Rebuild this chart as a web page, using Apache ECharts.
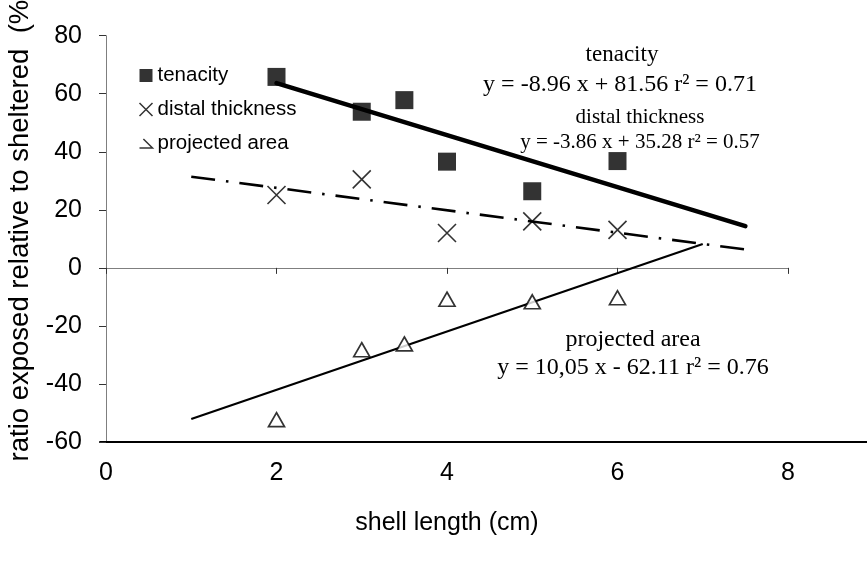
<!DOCTYPE html>
<html>
<head>
<meta charset="utf-8">
<script src="https://cdn.jsdelivr.net/npm/echarts@6/dist/echarts.min.js"></script>
<style>
  html, body { margin: 0; padding: 0; background: #fff; }
  #chart { width: 867px; height: 563px; }
</style>
</head>
<body>
<div id="chart"></div>
<script>
// Shell length (cm) and ratio exposed/sheltered (%) for each trait
const tenacityX = [2, 3, 3.5, 4, 5, 6];
const tenacityY = [65.8, 53.8, 57.8, 36.6, 26.4, 36.8];
const distalX = [2, 3, 4, 5, 6];
const distalY = [25.1, 30.5, 12, 16, 13.1];
const areaX = [2, 3, 3.5, 4, 5, 6];
const areaY = [-52.3, -28.2, -26.2, -10.8, -11.7, -10.3];

// Linear fits: [slope, intercept], drawn over [fromX, toX]
const tenacityFit = [-8.96, 81.56];
const tenacityFitRange = [2, 7.5];
const distalFit = [-3.86, 35.28];
const distalFitRange = [1, 7.5];
const areaFit = [10.05, -62.11];
const areaFitRange = [1, 7];

const xTicks = { min: 0, max: 8, interval: 2 };
const yTicks = { min: -60, max: 80, interval: 20 };

const SANS = "'Liberation Sans', Arial, sans-serif";
const SERIF = "'Liberation Serif', 'Times New Roman', serif";

function pairs(xs, ys) { return xs.map((x, i) => [x, ys[i]]); }
function fitLine(fit, range) { return range.map(x => [x, fit[0] * x + fit[1]]); }

const crossPath = 'path://M0,0L10,10M10,0L0,10';
const legendAreaIcon = 'path://M3,0L10,7L0,7';

const chart = echarts.init(document.getElementById('chart'), null, { renderer: 'canvas' });

const option = {
  animation: false,
  backgroundColor: '#fff',
  grid: [
    { left: 106, right: 79, top: 35.7, bottom: 121 },
    { left: 100, right: 0, top: 35.7, bottom: 121 }
  ],
  xAxis: [
    {
      type: 'value', gridIndex: 0, position: 'bottom',
      min: xTicks.min, max: xTicks.max, interval: xTicks.interval,
      axisLine: { show: false, onZero: false },
      axisTick: { show: false },
      splitLine: { show: false },
      axisLabel: { color: '#000', fontFamily: SANS, fontSize: 25, margin: 19 },
      name: 'shell length (cm)', nameLocation: 'middle', nameGap: 69,
      nameTextStyle: { color: '#000', fontFamily: SANS, fontSize: 25 }
    },
    {
      type: 'value', gridIndex: 0, position: 'bottom',
      min: xTicks.min, max: xTicks.max, interval: xTicks.interval,
      axisLine: { show: true, onZero: true, lineStyle: { color: '#7f7f7f', width: 1 } },
      axisTick: { show: true, length: 6, lineStyle: { color: '#333', width: 1 } },
      axisLabel: { show: false },
      splitLine: { show: false }
    },
    {
      type: 'value', gridIndex: 1, position: 'bottom', min: 0, max: 1,
      axisLine: { show: true, onZero: false, lineStyle: { color: '#000', width: 2 } },
      axisTick: { show: false }, axisLabel: { show: false }, splitLine: { show: false }
    }
  ],
  yAxis: [
    {
      type: 'value', gridIndex: 0,
      min: yTicks.min, max: yTicks.max, interval: yTicks.interval,
      axisLine: { show: true, onZero: false, lineStyle: { color: '#7f7f7f', width: 1 } },
      axisTick: { show: true, length: 7, lineStyle: { color: '#333', width: 1 } },
      splitLine: { show: false },
      axisLabel: { color: '#000', fontFamily: SANS, fontSize: 25, margin: 24 }
    },
    { type: 'value', gridIndex: 1, show: false, min: 0, max: 1 }
  ],
  legend: {
    orient: 'vertical', left: 132, top: 60, itemGap: 13,
    itemWidth: 13, itemHeight: 13,
    textStyle: { color: '#000', fontFamily: SANS, fontSize: 20.5 },
    data: [
      { name: 'tenacity', icon: 'rect', itemStyle: { color: '#000' } },
      { name: 'distal thickness', icon: crossPath,
        itemStyle: { color: 'none', borderColor: '#000', borderWidth: 1.5 } },
      { name: 'projected area', icon: legendAreaIcon,
        itemStyle: { color: 'none', borderColor: '#000', borderWidth: 1.5 } }
    ]
  },
  series: [
    {
      name: 'tenacity fit', type: 'line', xAxisIndex: 0, yAxisIndex: 0,
      data: fitLine(tenacityFit, tenacityFitRange), symbol: 'none',
      lineStyle: { color: '#000', width: 4.5, cap: 'round' }, z: 2
    },
    {
      name: 'distal fit', type: 'line', xAxisIndex: 0, yAxisIndex: 0,
      data: fitLine(distalFit, distalFitRange), symbol: 'none',
      lineStyle: { color: '#000', width: 2.6, type: [24, 11, 2.5, 11], cap: 'butt' }, z: 2
    },
    {
      name: 'area fit', type: 'line', xAxisIndex: 0, yAxisIndex: 0,
      data: fitLine(areaFit, areaFitRange), symbol: 'none',
      lineStyle: { color: '#000', width: 2.2 }, z: 2
    },
    {
      name: 'tenacity', type: 'scatter', xAxisIndex: 0, yAxisIndex: 0,
      data: pairs(tenacityX, tenacityY), symbol: 'rect', symbolSize: 18,
      itemStyle: { color: '#000' }, z: 3
    },
    {
      name: 'distal thickness', type: 'scatter', xAxisIndex: 0, yAxisIndex: 0,
      data: pairs(distalX, distalY), symbol: crossPath, symbolSize: 18,
      itemStyle: { color: 'none', borderColor: '#000', borderWidth: 1.6 }, z: 3
    },
    {
      name: 'projected area', type: 'scatter', xAxisIndex: 0, yAxisIndex: 0,
      data: pairs(areaX, areaY), symbol: 'triangle', symbolSize: [16, 14],
      itemStyle: { color: '#fff', borderColor: '#000', borderWidth: 1.7 }, z: 3
    }
  ],
  graphic: [
    { type: 'text', x: 20, y: 226, rotation: Math.PI / 2,
      style: { text: 'ratio exposed relative to sheltered  (%)', fill: '#000',
        font: '27.5px ' + SANS, textAlign: 'center', textVerticalAlign: 'middle' } },
    { type: 'text', x: 622, y: 55,
      style: { text: 'tenacity', fill: '#000', font: '23px ' + SERIF,
        textAlign: 'center', textVerticalAlign: 'middle' } },
    { type: 'text', x: 620, y: 85,
      style: { text: 'y = ' + tenacityFit[0].toFixed(2) + ' x + ' + tenacityFit[1].toFixed(2) + ' r\u00b2 = 0.71',
        fill: '#000', font: '24px ' + SERIF, textAlign: 'center', textVerticalAlign: 'middle' } },
    { type: 'text', x: 640, y: 117,
      style: { text: 'distal thickness', fill: '#000', font: '21px ' + SERIF,
        textAlign: 'center', textVerticalAlign: 'middle' } },
    { type: 'text', x: 640, y: 142,
      style: { text: 'y = ' + distalFit[0].toFixed(2) + ' x + ' + distalFit[1].toFixed(2) + ' r\u00b2 = 0.57',
        fill: '#000', font: '21px ' + SERIF, textAlign: 'center', textVerticalAlign: 'middle' } },
    { type: 'text', x: 633, y: 340,
      style: { text: 'projected area', fill: '#000', font: '24px ' + SERIF,
        textAlign: 'center', textVerticalAlign: 'middle' } },
    { type: 'text', x: 633, y: 368,
      style: { text: 'y = ' + areaFit[0].toFixed(2).replace('.', ',') + ' x - ' + Math.abs(areaFit[1]).toFixed(2) + ' r\u00b2 = 0.76',
        fill: '#000', font: '24px ' + SERIF, textAlign: 'center', textVerticalAlign: 'middle' } }
  ]
};

chart.setOption(option);
</script>
</body>
</html>
